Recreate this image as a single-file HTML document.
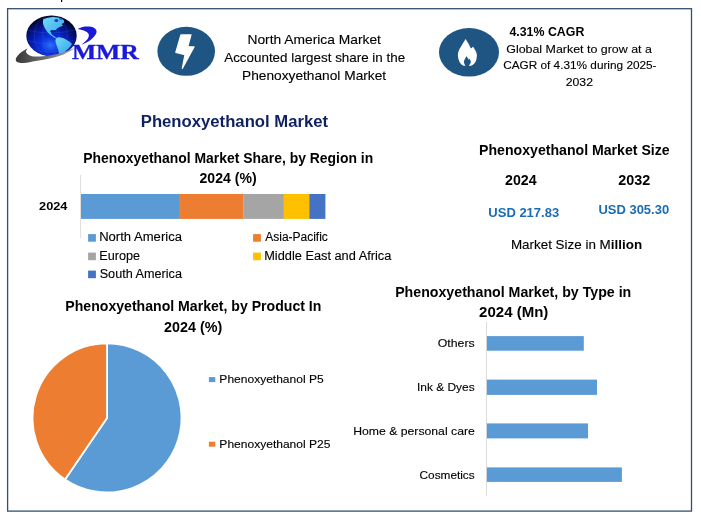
<!DOCTYPE html>
<html lang="en"><head><meta charset="utf-8"><title>Phenoxyethanol Market</title>
<style>
html,body{margin:0;padding:0;background:#fff;}
body{width:701px;height:521px;overflow:hidden;}
svg{display:block;font-family:'Liberation Sans', sans-serif;}
text{white-space:pre;}
</style></head><body>
<svg width="701" height="521" viewBox="0 0 701 521">
<rect width="701" height="521" fill="#fff"/>
<rect x="7.6" y="8.7" width="683.9" height="502.4" fill="none" stroke="#33506e" stroke-width="1.3"/>
<rect x="61.0" y="0.0" width="1.2" height="2.0" fill="#000"/>
<defs>
<radialGradient id="gl" cx="0.48" cy="0.70" r="0.66" fx="0.48" fy="0.74">
<stop offset="0" stop-color="#2a70fa"/><stop offset="0.3" stop-color="#0c32dc"/><stop offset="0.6" stop-color="#0619a6"/><stop offset="0.83" stop-color="#030d5c"/><stop offset="1" stop-color="#010422"/>
</radialGradient>
<linearGradient id="sw" x1="0" y1="0" x2="1" y2="0">
<stop offset="0" stop-color="#383838"/><stop offset="0.45" stop-color="#6a6a6a"/><stop offset="1" stop-color="#9fa0ad"/>
</linearGradient>
<linearGradient id="ct" x1="0" y1="0" x2="1" y2="1">
<stop offset="0" stop-color="#74dafa"/><stop offset="1" stop-color="#2fa4ec"/>
</linearGradient>
<clipPath id="gc"><ellipse cx="51.5" cy="35.8" rx="25.2" ry="20.4"/></clipPath>
</defs>
<ellipse cx="51.5" cy="35.8" rx="25.2" ry="20.4" fill="url(#gl)"/>
<g clip-path="url(#gc)">
<g fill="none" stroke="#4a7dff" stroke-width="0.35" opacity="0.55">
<ellipse cx="50.8" cy="35.6" rx="8" ry="20.4"/><ellipse cx="50.8" cy="35.6" rx="16.5" ry="20.4"/>
<path d="M27 30 Q50 36 75 30 M27 40 Q50 48 75 40 M30 48 Q50 56 72 48"/>
</g>
<path d="M43.34 18.85 C44.15 18.65 46.56 17.95 48.17 17.64 C49.79 17.33 51.40 17.02 53.01 17.00 C54.62 16.97 56.37 17.17 57.84 17.48 C59.32 17.79 60.84 18.26 61.87 18.85 C62.91 19.44 63.78 20.31 64.05 21.02 C64.32 21.74 63.87 22.58 63.48 23.12 C63.09 23.66 61.78 23.85 61.71 24.25 C61.64 24.65 63.39 25.09 63.08 25.54 C62.77 25.98 60.73 26.48 59.86 26.91 C58.99 27.34 58.42 27.71 57.84 28.12 C57.27 28.52 56.69 28.89 56.39 29.32 C56.10 29.75 56.04 30.22 56.07 30.69 C56.10 31.16 56.66 31.96 56.55 32.15 C56.45 32.33 55.86 31.96 55.43 31.82 C55.00 31.69 54.58 31.34 53.98 31.34 C53.37 31.34 52.30 31.53 51.80 31.82 C51.30 32.12 50.93 32.63 50.99 33.11 C51.06 33.60 51.67 34.21 52.20 34.72 C52.74 35.23 53.52 35.69 54.22 36.17 C54.92 36.66 56.12 37.26 56.39 37.62 C56.66 37.99 56.33 38.43 55.83 38.35 C55.33 38.27 54.22 37.61 53.41 37.14 C52.61 36.67 51.76 36.15 50.99 35.53 C50.23 34.91 49.45 34.08 48.82 33.43 C48.19 32.79 47.78 32.41 47.21 31.66 C46.63 30.91 45.93 29.92 45.35 28.92 C44.78 27.93 44.15 26.77 43.74 25.70 C43.34 24.62 43.00 23.62 42.94 22.48 C42.87 21.33 43.27 19.45 43.34 18.85 Z" fill="url(#ct)"/>
<path d="M56.07 38.27 C56.50 38.11 57.68 37.38 58.65 37.30 C59.62 37.22 60.80 37.50 61.87 37.79 C62.95 38.07 64.02 38.46 65.10 38.99 C66.17 39.53 67.22 40.24 68.32 41.01 C69.42 41.77 71.27 42.78 71.70 43.59 C72.13 44.39 71.39 45.06 70.90 45.84 C70.40 46.62 69.55 47.46 68.72 48.26 C67.89 49.07 66.71 49.94 65.90 50.68 C65.10 51.42 64.96 52.22 63.89 52.69 C62.81 53.16 60.36 53.83 59.46 53.50 C58.56 53.16 58.84 51.69 58.49 50.68 C58.14 49.67 57.74 48.53 57.36 47.46 C56.98 46.38 56.55 45.31 56.23 44.23 C55.91 43.16 55.45 42.00 55.43 41.01 C55.40 40.02 55.96 38.73 56.07 38.27 Z" fill="url(#ct)"/>
<ellipse cx="52.3" cy="31.2" rx="1.9" ry="1.25" fill="#0a2490"/>
<ellipse cx="55.2" cy="31.1" rx="1.5" ry="1.1" fill="#0a2490"/>
<ellipse cx="56.4" cy="20.6" rx="2" ry="1.5" fill="#0c2aa8" opacity="0.85"/><path d="M58.5 17.8 L61.5 18.8 L62.5 20.5 L60 19.8 Z" fill="#0c2aa8" opacity="0.7"/>
</g>
<path d="M27.33 48.58 C26.37 49.16 23.26 50.72 21.55 52.05 C19.84 53.37 18.02 55.26 17.06 56.54 C16.10 57.82 15.67 58.79 15.78 59.75 C15.88 60.71 16.31 61.78 17.70 62.32 C19.09 62.85 21.13 63.17 24.12 62.96 C27.12 62.74 31.61 61.72 35.67 61.03 C39.74 60.35 44.23 59.81 48.51 58.85 C52.79 57.89 57.28 56.82 61.35 55.26 C65.41 53.69 70.72 50.68 72.90 49.48 C75.08 48.28 74.18 48.30 74.44 48.07 C72.26 48.90 65.67 51.79 61.35 53.07 C57.03 54.36 52.79 55.19 48.51 55.77 C44.23 56.35 38.88 56.62 35.67 56.54 C32.46 56.45 30.86 56.00 29.26 55.26 C27.65 54.51 26.37 53.16 26.05 52.05 C25.73 50.93 27.12 49.16 27.33 48.58 Z" fill="url(#sw)"/>
<path d="M77.76 28.90 C78.56 28.60 80.81 27.46 82.56 27.08 C84.31 26.70 86.46 26.56 88.26 26.62 C90.07 26.68 92.11 26.91 93.40 27.42 C94.70 27.93 95.51 28.85 96.03 29.70 C96.54 30.56 96.73 31.51 96.48 32.56 C96.24 33.60 95.53 34.75 94.54 35.98 C93.55 37.22 91.97 38.84 90.55 39.98 C89.12 41.12 87.50 42.03 85.98 42.83 C84.46 43.63 82.18 44.45 81.42 44.77 C82.18 44.11 84.84 41.96 85.98 40.78 C87.12 39.60 87.79 38.68 88.26 37.69 C88.74 36.70 89.03 35.73 88.84 34.84 C88.65 33.95 88.07 33.09 87.12 32.33 C86.17 31.57 84.69 30.84 83.13 30.27 C81.57 29.70 78.66 29.13 77.76 28.90 Z" fill="#1a1ad6"/>
<text x="71.9" y="58.6" stroke="#1a1ad6" stroke-width="0.3" font-family="'Liberation Serif', serif" font-weight="700" font-size="20.8" fill="#1a1ad6" textLength="67" lengthAdjust="spacingAndGlyphs">MMR</text>
<ellipse cx="186.2" cy="51.3" rx="28.8" ry="24.5" fill="#1f5582"/>
<path d="M180.9 34.9 L191.0 34.9 L187.8 46.5 L194.0 46.9 L182.3 68.4 L185.0 54.7 L175.8 52.5 Z" fill="#fff" stroke="#fff" stroke-width="1.2" stroke-linejoin="round"/>
<ellipse cx="469" cy="52.3" rx="30" ry="24.2" fill="#1f5582"/>
<path d="M465.58 39.06 C464.90 40.19 462.68 43.79 461.51 45.81 C460.35 47.84 459.20 49.52 458.60 51.19 C457.99 52.85 457.80 54.13 457.90 55.79 C458.01 57.45 458.48 59.63 459.21 61.16 C459.94 62.70 461.32 64.21 462.28 65.00 C463.24 65.79 464.52 65.77 464.97 65.92 C465.67 65.92 468.48 65.92 469.19 65.92 C469.76 65.77 471.55 65.73 472.64 65.00 C473.73 64.27 475.01 63.08 475.71 61.55 C476.41 60.01 476.80 57.39 476.86 55.79 C476.93 54.19 476.73 53.49 476.09 51.95 C475.45 50.42 473.54 47.48 473.02 46.58 C472.90 46.74 472.61 47.18 472.26 47.50 C471.90 47.82 471.11 48.33 470.87 48.50 C470.47 47.67 469.30 45.09 468.42 43.51 C467.54 41.94 466.05 39.80 465.58 39.06 Z" fill="#fff"/>
<path d="M466.50 56.17 C466.12 56.88 464.61 59.31 464.20 60.40 C463.79 61.48 463.85 61.78 464.04 62.70 C464.24 63.62 465.13 65.38 465.35 65.92 C465.92 65.92 468.23 65.92 468.80 65.92 C469.12 65.38 470.43 63.56 470.72 62.70 C471.02 61.84 470.80 61.48 470.57 60.78 C470.34 60.08 469.54 58.86 469.34 58.48 C469.22 58.69 468.76 59.56 468.65 59.78 C468.51 59.48 468.16 58.54 467.81 57.94 C467.45 57.34 466.72 56.47 466.50 56.17 Z" fill="#1f5582"/>
<text x="247.42" y="43.9" font-size="13.20" stroke="#000" stroke-width="0.12" fill="#000" textLength="133.53" lengthAdjust="spacingAndGlyphs">North America Market</text>
<text x="224.22" y="61.9" font-size="13.20" stroke="#000" stroke-width="0.12" fill="#000" textLength="180.92" lengthAdjust="spacingAndGlyphs">Accounted largest share in the</text>
<text x="242.02" y="79.7" font-size="13.20" stroke="#000" stroke-width="0.12" fill="#000" textLength="144.13" lengthAdjust="spacingAndGlyphs">Phenoxyethanol Market</text>
<text x="509.41" y="35.5" font-size="13.20" font-weight="700" fill="#000" textLength="74.94" lengthAdjust="spacingAndGlyphs">4.31% CAGR</text>
<text x="506.23" y="53.1" font-size="11.40" stroke="#000" stroke-width="0.12" fill="#000" textLength="145.72" lengthAdjust="spacingAndGlyphs">Global Market to grow at a</text>
<text x="503.15" y="69.1" font-size="11.40" stroke="#000" stroke-width="0.12" fill="#000" textLength="153.42" lengthAdjust="spacingAndGlyphs">CAGR of 4.31% during 2025-</text>
<text x="565.73" y="85.7" font-size="11.40" stroke="#000" stroke-width="0.12" fill="#000" textLength="27.23" lengthAdjust="spacingAndGlyphs">2032</text>
<text x="140.78" y="127.1" font-size="16.80" font-weight="700" fill="#10215f" textLength="187.32" lengthAdjust="spacingAndGlyphs">Phenoxyethanol Market</text>
<text x="83.17" y="162.8" font-size="14.40" font-weight="700" fill="#000" textLength="289.99" lengthAdjust="spacingAndGlyphs">Phenoxyethanol Market Share, by Region in</text>
<text x="199.51" y="183.3" font-size="14.40" font-weight="700" fill="#000" textLength="57.09" lengthAdjust="spacingAndGlyphs">2024 (%)</text>
<rect x="80.2" y="175.0" width="0.9" height="63.0" fill="#d9d9d9"/>
<rect x="81.0" y="194.0" width="98.0" height="24.9" fill="#5b9bd5"/>
<rect x="179.0" y="194.0" width="64.2" height="24.9" fill="#ed7d31"/>
<rect x="243.2" y="194.0" width="40.7" height="24.9" fill="#a5a5a5"/>
<rect x="283.9" y="194.0" width="25.4" height="24.9" fill="#ffc000"/>
<rect x="309.3" y="194.0" width="16.1" height="24.9" fill="#4472c4"/>
<text x="39.06" y="209.6" font-size="11.40" font-weight="700" fill="#000" textLength="28.41" lengthAdjust="spacingAndGlyphs">2024</text>
<rect x="88.1" y="234.1" width="7.8" height="7.6" fill="#5b9bd5"/>
<text x="99.18" y="241.2" font-size="12.42" stroke="#000" stroke-width="0.12" fill="#000" textLength="82.77" lengthAdjust="spacingAndGlyphs">North America</text>
<rect x="88.1" y="252.6" width="7.8" height="7.6" fill="#a5a5a5"/>
<text x="99.21" y="259.5" font-size="12.42" stroke="#000" stroke-width="0.12" fill="#000" textLength="40.80" lengthAdjust="spacingAndGlyphs">Europe</text>
<rect x="88.1" y="270.6" width="7.8" height="7.6" fill="#4472c4"/>
<text x="99.68" y="277.7" font-size="12.42" stroke="#000" stroke-width="0.12" fill="#000" textLength="82.27" lengthAdjust="spacingAndGlyphs">South America</text>
<rect x="253.1" y="234.1" width="7.8" height="7.6" fill="#ed7d31"/>
<text x="265.23" y="241.2" font-size="12.42" stroke="#000" stroke-width="0.12" fill="#000" textLength="62.64" lengthAdjust="spacingAndGlyphs">Asia-Pacific</text>
<rect x="253.1" y="252.6" width="7.8" height="7.6" fill="#ffc000"/>
<text x="264.20" y="259.5" font-size="12.42" stroke="#000" stroke-width="0.12" fill="#000" textLength="127.15" lengthAdjust="spacingAndGlyphs">Middle East and Africa</text>
<text x="479.06" y="154.7" font-size="14.40" font-weight="700" fill="#000" textLength="190.63" lengthAdjust="spacingAndGlyphs">Phenoxyethanol Market Size</text>
<text x="505.01" y="185.2" font-size="14.40" font-weight="700" fill="#000" textLength="31.57" lengthAdjust="spacingAndGlyphs">2024</text>
<text x="618.30" y="185.2" font-size="14.40" font-weight="700" fill="#000" textLength="31.97" lengthAdjust="spacingAndGlyphs">2032</text>
<text x="488.32" y="217.2" font-size="13.20" font-weight="700" fill="#1a6cb4" textLength="70.85" lengthAdjust="spacingAndGlyphs">USD 217.83</text>
<text x="598.42" y="213.9" font-size="13.20" font-weight="700" fill="#1a6cb4" textLength="70.71" lengthAdjust="spacingAndGlyphs">USD 305.30</text>
<text x="510.90" y="248.8" font-size="13.20" textLength="131.23" lengthAdjust="spacingAndGlyphs" stroke="#000" stroke-width="0.12">Market Size in M<tspan font-weight="700" stroke="none">illion</tspan></text>
<path d="M107 417.9 L107 343.4 A74.5 74.5 0 1 1 65.02 479.44 Z" fill="#5b9bd5" stroke="#fff" stroke-width="1.8" stroke-linejoin="round"/>
<path d="M107 417.9 L65.02 479.44 A74.5 74.5 0 0 1 107 343.4 Z" fill="#ed7d31" stroke="#fff" stroke-width="1.8" stroke-linejoin="round"/>
<text x="65.36" y="311.4" font-size="14.40" font-weight="700" fill="#000" textLength="256.02" lengthAdjust="spacingAndGlyphs">Phenoxyethanol Market, by Product In</text>
<text x="164.10" y="331.6" font-size="14.40" font-weight="700" fill="#000" textLength="58.11" lengthAdjust="spacingAndGlyphs">2024 (%)</text>
<rect x="208.9" y="377.1" width="6.4" height="5.0" fill="#5b9bd5"/>
<text x="219.36" y="383.4" font-size="11.40" stroke="#000" stroke-width="0.12" fill="#000" textLength="104.29" lengthAdjust="spacingAndGlyphs">Phenoxyethanol P5</text>
<rect x="208.9" y="441.7" width="6.4" height="5.0" fill="#ed7d31"/>
<text x="219.36" y="447.6" font-size="11.40" stroke="#000" stroke-width="0.12" fill="#000" textLength="111.09" lengthAdjust="spacingAndGlyphs">Phenoxyethanol P25</text>
<text x="395.15" y="296.7" font-size="14.40" font-weight="700" fill="#000" textLength="236.13" lengthAdjust="spacingAndGlyphs">Phenoxyethanol Market, by Type in</text>
<text x="479.08" y="316.8" font-size="14.40" font-weight="700" fill="#000" textLength="69.27" lengthAdjust="spacingAndGlyphs">2024 (Mn)</text>
<rect x="486.0" y="321.7" width="0.9" height="174.5" fill="#d9d9d9"/>
<rect x="486.9" y="336.1" width="96.9" height="14.6" fill="#5b9bd5"/>
<text x="437.77" y="346.9" font-size="11.40" stroke="#000" stroke-width="0.12" fill="#000" textLength="36.93" lengthAdjust="spacingAndGlyphs">Others</text>
<rect x="486.9" y="379.6" width="110.1" height="15.3" fill="#5b9bd5"/>
<text x="416.95" y="390.7" font-size="11.40" stroke="#000" stroke-width="0.12" fill="#000" textLength="57.73" lengthAdjust="spacingAndGlyphs">Ink &amp; Dyes</text>
<rect x="486.9" y="423.4" width="101.1" height="15.0" fill="#5b9bd5"/>
<text x="353.25" y="435.0" font-size="11.40" stroke="#000" stroke-width="0.12" fill="#000" textLength="121.54" lengthAdjust="spacingAndGlyphs">Home &amp; personal care</text>
<rect x="486.9" y="467.4" width="135.0" height="14.5" fill="#5b9bd5"/>
<text x="419.55" y="479.0" font-size="11.40" stroke="#000" stroke-width="0.12" fill="#000" textLength="55.13" lengthAdjust="spacingAndGlyphs">Cosmetics</text>
</svg>
</body></html>
